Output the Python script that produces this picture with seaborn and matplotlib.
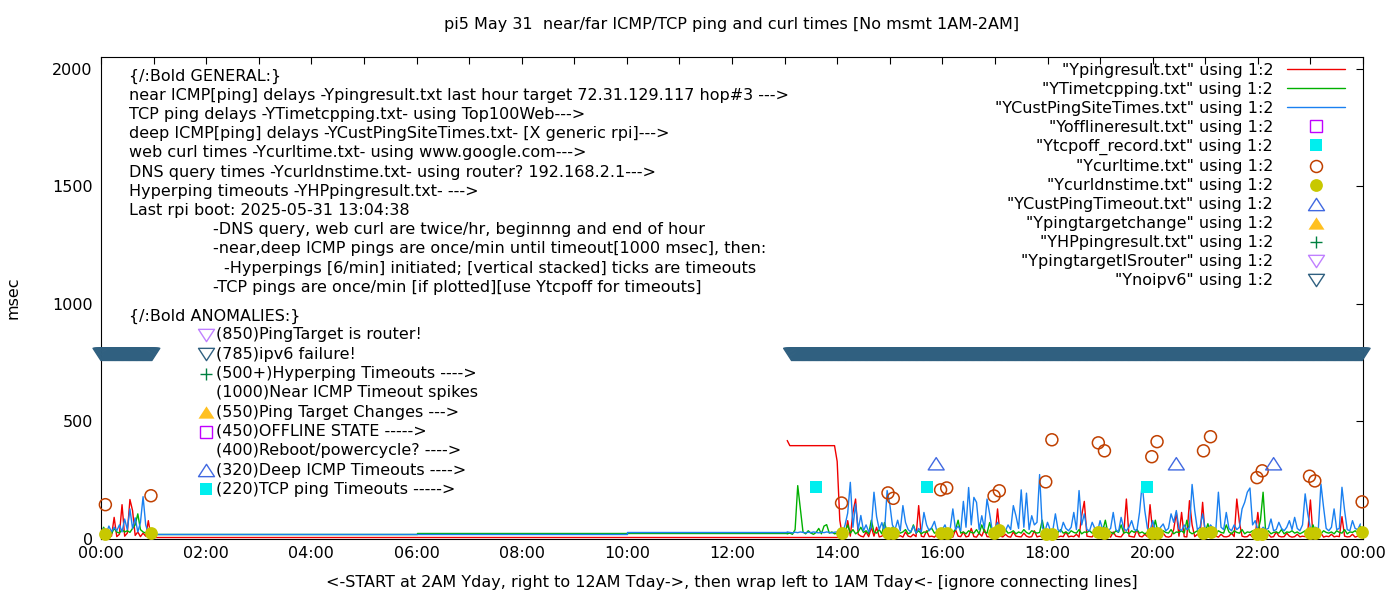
import numpy as np
import matplotlib
matplotlib.use("Agg")
import matplotlib.pyplot as plt
from matplotlib.lines import Line2D
from matplotlib.path import Path
from matplotlib.ticker import MultipleLocator
import seaborn as sns

# ---- text ----
TITLE = "pi5 May 31  near/far ICMP/TCP ping and curl times [No msmt 1AM-2AM]"
XLABEL = "<-START at 2AM Yday, right to 12AM Tday->, then wrap left to 1AM Tday<- [ignore connecting lines]"
YLABEL = "msec"

x_tick_hours = [0, 2, 4, 6, 8, 10, 12, 14, 16, 18, 20, 22, 24]
x_tick_labels = ["00:00", "02:00", "04:00", "06:00", "08:00", "10:00", "12:00",
                 "14:00", "16:00", "18:00", "20:00", "22:00", "00:00"]
y_ticks = [0, 500, 1000, 1500, 2000]

general_lines = [
    "{/:Bold GENERAL:}",
    "near ICMP[ping] delays -Ypingresult.txt last hour target 72.31.129.117 hop#3 --->",
    "TCP ping delays -YTimetcpping.txt- using Top100Web--->",
    "deep ICMP[ping] delays -YCustPingSiteTimes.txt- [X generic rpi]--->",
    "web curl times -Ycurltime.txt- using www.google.com--->",
    "DNS query times -Ycurldnstime.txt- using router? 192.168.2.1--->",
    "Hyperping timeouts -YHPpingresult.txt- --->",
    "Last rpi boot: 2025-05-31 13:04:38",
    "-DNS query, web curl are twice/hr, beginnng and end of hour",
    "-near,deep ICMP pings are once/min until timeout[1000 msec], then:",
    "-Hyperpings [6/min] initiated; [vertical stacked] ticks are timeouts",
    "-TCP pings are once/min [if plotted][use Ytcpoff for timeouts]",
]
general_x = [129, 129, 129, 129, 129, 129, 129, 129, 213, 213, 224, 213]

anomaly_title = "{/:Bold ANOMALIES:}"
anomaly_lines = [
    "(850)PingTarget is router!",
    "(785)ipv6 failure!",
    "(500+)Hyperping Timeouts ---->",
    "(1000)Near ICMP Timeout spikes",
    "(550)Ping Target Changes --->",
    "(450)OFFLINE STATE ----->",
    "(400)Reboot/powercycle? ---->",
    "(320)Deep ICMP Timeouts ---->",
    "(220)TCP ping Timeouts ----->",
]
anomaly_keys = ["router", "ipv6", "hp", None, "tchange", "offline", None, "custto", "tcpoff"]

# ---- data (hours of day, msec) ----
def hrs(t):
    h, m = t.split(":")
    return int(h) + int(m) / 60

STEP_MIN = 3
EARLY_START = "00:00"
DAY_START = "13:03"

# near ICMP (Ypingresult)
red_early = [10, 15, 8, 30, 12, 92, 10, 20, 146, 12, 25, 168, 121, 15, 30, 10, 25, 12, 78, 10]
red_day = (
    [419, 397, 397, 397, 397, 397, 397, 397, 397, 397, 397, 397, 397, 397, 397, 397, 397, 397, 397]
    + [330, 80, 10, 12, 78, 12, 113, 170, 20, 12, 9, 30, 10, 50, 12, 50, 9, 12, 25, 10]
    + [12, 9, 25, 10, 14, 8, 30, 12, 9, 20, 10, 142, 12, 9, 35, 10, 12, 8, 20, 10]
    + [9, 12, 20, 10, 8, 40, 12, 10, 30, 9, 12, 45, 10, 8, 25, 12, 40, 10, 9, 15]
    + [10, 128, 12, 9, 20, 10, 8, 30, 12, 10, 9, 25, 12, 8, 10, 35, 9, 12, 10, 8]
    + [12, 9, 10, 25, 8, 12, 10, 30, 9, 12, 10, 20, 8, 100, 160, 12, 10, 9, 25, 10]
    + [9, 12, 10, 20, 8, 30, 12, 10, 9, 25, 170, 12, 10, 8, 40, 12, 9, 20, 10, 146]
    + [30, 10, 12, 9, 25, 10, 8, 12, 40, 113, 12, 113, 10, 9, 163, 60, 10, 20, 12, 156]
    + [12, 9, 30, 10, 12, 8, 20, 10, 9, 12, 25, 10, 170, 70, 12, 9, 10, 20, 8, 12]
    + [113, 10, 9, 12, 20, 8, 10, 30, 12, 9, 10, 25, 12, 8, 10, 20, 9, 12, 10, 30]
    + [166, 12, 9, 10, 25, 8, 12, 10, 20, 9, 12, 10, 95, 12, 9, 10, 20, 8, 12, 10]
)
red_night_t = ["00:57", "14:06"]
red_night_v = [10, 8]

# TCP ping (YTimetcpping)
green_early = [20, 50, 25, 35, 22, 45, 30, 25, 40, 30, 35, 28, 45, 60, 107, 40, 30, 25, 22, 23]
green_day = (
    [22, 25, 20, 40, 227, 130, 30, 22, 35, 25, 20, 28, 45, 22, 55, 61, 25, 30, 22]
    + [25, 35, 20, 30, 60, 25, 40, 22, 30, 50, 28, 35, 22, 80, 30, 25, 40, 22, 70, 30]
    + [28, 50, 22, 35, 25, 30, 40, 22, 28, 60, 25, 35, 22, 30, 28, 40, 45, 25, 30, 22]
    + [30, 25, 35, 22, 28, 40, 80, 25, 30, 22, 35, 28, 25, 40, 22, 60, 30, 25, 70, 28]
    + [25, 35, 22, 30, 40, 25, 28, 35, 22, 30, 25, 40, 28, 22, 35, 30, 25, 28, 80, 22]
    + [30, 25, 35, 22, 28, 40, 25, 30, 22, 35, 28, 25, 40, 22, 30, 28, 35, 25, 22, 30]
    + [28, 35, 80, 25, 30, 22, 35, 28, 60, 25, 30, 22, 35, 28, 40, 25, 30, 22, 28, 35]
    + [25, 80, 30, 22, 35, 28, 25, 40, 22, 30, 28, 35, 25, 80, 30, 22, 28, 35, 25, 30]
    + [28, 65, 25, 30, 22, 35, 28, 25, 60, 30, 22, 35, 28, 25, 40, 22, 30, 28, 35, 25]
    + [30, 80, 199, 25, 35, 22, 28, 30, 25, 40, 22, 30, 28, 35, 25, 30, 22, 28, 35, 25]
    + [28, 60, 25, 30, 22, 35, 28, 25, 30, 22, 35, 28, 25, 40, 22, 30, 28, 35, 25, 55]
)
green_night_t = ["00:57", "02:00", "06:00", "13:03"]
green_night_v = [23, 20, 27, 27]

# deep ICMP (YCustPingSiteTimes)
blue_early = [20, 45, 25, 55, 30, 50, 35, 60, 30, 85, 40, 128, 45, 90, 30, 70, 180, 60, 25, 21]
blue_day = (
    [30, 28, 26, 29, 27, 30, 28, 26, 29, 27, 30, 28, 26, 29, 27, 30, 28, 26, 29]
    + [30, 45, 25, 60, 110, 241, 50, 149, 40, 100, 35, 60, 30, 50, 199, 95, 40, 70, 30, 206]
    + [150, 60, 40, 80, 35, 142, 70, 40, 30, 55, 25, 45, 30, 113, 60, 35, 50, 75, 30, 40]
    + [40, 60, 30, 45, 128, 40, 55, 35, 160, 50, 219, 60, 177, 156, 40, 99, 45, 170, 107, 35]
    + [45, 71, 30, 50, 35, 60, 40, 142, 99, 45, 209, 50, 195, 40, 99, 60, 71, 274, 50, 30]
    + [71, 40, 35, 107, 40, 30, 71, 45, 35, 50, 113, 40, 206, 60, 107, 40, 35, 71, 45, 30]
    + [78, 40, 50, 35, 45, 113, 40, 30, 92, 45, 35, 50, 78, 40, 35, 113, 234, 121, 45, 35]
    + [78, 40, 35, 50, 64, 35, 45, 107, 71, 121, 45, 35, 60, 40, 50, 232, 121, 40, 50, 107]
    + [40, 35, 60, 45, 35, 199, 50, 40, 113, 45, 35, 60, 40, 50, 128, 156, 199, 217, 60, 78]
    + [40, 35, 50, 40, 45, 85, 35, 40, 71, 45, 35, 50, 78, 40, 92, 45, 35, 60, 192, 107]
    + [45, 35, 50, 40, 234, 135, 45, 35, 50, 128, 40, 45, 220, 121, 40, 35, 78, 45, 40, 64]
)
blue_night_t = ["00:57", "06:00", "10:00", "13:03"]
blue_night_v = [21, 23, 30, 30]

# web curl + DNS query, twice an hour
curl_t = ["00:05", "00:57", "14:05", "14:58", "15:04", "15:58", "16:05", "16:59", "17:05",
          "17:58", "18:05", "18:58", "19:05", "19:59", "20:05", "20:58", "21:06", "21:59",
          "22:05", "22:59", "23:05", "23:59"]
curl_v = [146, 184, 153, 196, 173, 209, 217, 183, 205, 243, 422, 409, 375, 350, 414, 375,
          435, 261, 290, 267, 247, 158]
dns_v = [22, 27, 26, 24, 26, 25, 27, 24, 40, 22, 22, 28, 26, 24, 24, 27, 30, 22, 22, 24, 26, 30]

tcpoff_t = ["13:36", "15:42", "19:53"]
tcpoff_v = [220, 220, 220]

custto_t = ["15:53", "20:27", "22:18"]
custto_v = [320, 320, 320]

# ipv6 failure, logged every minute inside these windows
ipv6_windows = [("00:00", "00:58"), ("13:08", "23:59")]
ipv6_v = 785

# ---- styles ----
C_RED, C_GREEN, C_BLUE = "#f00000", "#00b000", "#1a80f0"
TRI_UP = Path([(0, 0.77), (-1, -0.77), (1, -0.77), (0, 0.77)],
              [Path.MOVETO, Path.LINETO, Path.LINETO, Path.CLOSEPOLY])
TRI_DN = Path([(0, -0.77), (-1, 0.77), (1, 0.77), (0, -0.77)],
              [Path.MOVETO, Path.LINETO, Path.LINETO, Path.CLOSEPOLY])
styles = {
    "offline": dict(marker="s", ms=8.6, mfc="none", mec="#c000ff", mew=1.0),
    "tcpoff": dict(marker="s", ms=9.1, mfc="#00eeee", mec="#00eeee", mew=0),
    "curl": dict(marker="o", ms=8.6, mfc="none", mec="#c04000", mew=1.1),
    "dns": dict(marker="o", ms=9.2, mfc="#c8c800", mec="#c8c800", mew=0),
    "custto": dict(marker=TRI_UP, ms=11.5, mfc="none", mec="#4169e1", mew=1.0),
    "tchange": dict(marker=TRI_UP, ms=11.5, mfc="#ffc020", mec="#ffc020", mew=0),
    "hp": dict(marker="+", ms=9, mfc="none", mec="#008040", mew=1.0),
    "router": dict(marker=TRI_DN, ms=11.5, mfc="none", mec="#c080ff", mew=1.0),
    "ipv6": dict(marker=TRI_DN, ms=11.5, mfc="none", mec="#306080", mew=1.0),
}

FS = 11.5
sns.set_theme(style="white")
plt.rcParams["font.family"] = ["DejaVu Sans"]
plt.rcParams["text.color"] = "black"
plt.rcParams["axes.labelcolor"] = "black"
plt.rcParams["axes.linewidth"] = 0.8

W, H = 1400, 600
AX_L, AX_R, AX_T, AX_B = 101, 1363, 57, 539
fig = plt.figure(figsize=(W / 100, H / 100), dpi=100)
ax = fig.add_axes([AX_L / W, 1 - AX_B / H, (AX_R - AX_L) / W, (AX_B - AX_T) / H])


def fx(px):
    return (px - AX_L) / (AX_R - AX_L)


def fy(py):
    return (AX_B - py) / (AX_B - AX_T)


def grid(start, n):
    return hrs(start) + np.arange(n) * STEP_MIN / 60


# lines: near ICMP, TCP, deep ICMP
for early, day, nt, nv, col in [
    (red_early, red_day, red_night_t, red_night_v, C_RED),
    (green_early, green_day, green_night_t, green_night_v, C_GREEN),
    (blue_early, blue_day, blue_night_t, blue_night_v, C_BLUE),
]:
    sns.lineplot(x=[hrs(t) for t in nt], y=nv, ax=ax, color=col, lw=1.0,
                 drawstyle="steps-post", estimator=None, sort=False)
    sns.lineplot(x=grid(EARLY_START, len(early)), y=early, ax=ax, color=col, lw=1.0,
                 estimator=None, sort=False)
    sns.lineplot(x=grid(DAY_START, len(day)), y=day, ax=ax, color=col, lw=1.0,
                 estimator=None, sort=False)


def points(xs, ys, key):
    st = styles[key]
    sns.scatterplot(x=xs, y=ys, ax=ax, marker=st["marker"], s=st["ms"] ** 2,
                    facecolor=st["mfc"], edgecolor=st["mec"], linewidth=st["mew"],
                    clip_on=False, zorder=5)


points([hrs(t) for t in tcpoff_t], tcpoff_v, "tcpoff")
points([hrs(t) for t in curl_t], curl_v, "curl")
points([hrs(t) for t in curl_t], dns_v, "dns")
points([hrs(t) for t in custto_t], custto_v, "custto")
ipv6_x = np.concatenate([np.arange(hrs(a) * 60, hrs(b) * 60 + 1) / 60 for a, b in ipv6_windows])
points(ipv6_x, [ipv6_v] * len(ipv6_x), "ipv6")

# axes
ax.set_xlim(0, 24)
ax.set_ylim(0, 2050)
ax.set_xticks(x_tick_hours)
ax.set_xticklabels(x_tick_labels)
ax.xaxis.set_minor_locator(MultipleLocator(1))
ax.set_yticks(y_ticks)
ax.tick_params(axis="both", which="both", direction="in", top=True, right=True,
               length=5, width=0.8, color="black", labelsize=FS, labelcolor="black")
ax.tick_params(axis="x", pad=5)
ax.tick_params(axis="y", pad=6)
for sp in ax.spines.values():
    sp.set_color("black")
ax.set_xlabel("")
ax.set_ylabel("")

fig.text((AX_L + AX_R) / 2 / W, 1 - 25 / H, TITLE, ha="center", va="center",
         fontsize=FS, color="black")
fig.text((AX_L + AX_R) / 2 / W, 1 - 583 / H, XLABEL, ha="center", va="center",
         fontsize=FS, color="black")
fig.text(13 / W, 1 - 298 / H, YLABEL, ha="center", va="center", rotation=90,
         fontsize=FS, color="black")

# description block
for i, (line, px) in enumerate(zip(general_lines, general_x)):
    ax.text(fx(px), fy(76 + 19.2 * i), line, transform=ax.transAxes, ha="left", va="center",
            fontsize=FS, color="black")
ax.text(fx(129), fy(316), anomaly_title, transform=ax.transAxes, ha="left", va="center",
        fontsize=FS, color="black")
for i, (line, key) in enumerate(zip(anomaly_lines, anomaly_keys)):
    yy = fy(335 + 19.3 * i)
    ax.text(fx(216), yy, line, transform=ax.transAxes, ha="left", va="center",
            fontsize=FS, color="black")
    if key is not None:
        ax.plot([fx(206)], [yy], transform=ax.transAxes, ls="none", clip_on=False, **styles[key])

# legend
handles = [
    Line2D([], [], color=C_RED, lw=1.0),
    Line2D([], [], color=C_GREEN, lw=1.0),
    Line2D([], [], color=C_BLUE, lw=1.0),
] + [Line2D([], [], ls="none", **styles[k]) for k in
     ["offline", "tcpoff", "curl", "dns", "custto", "tchange", "hp", "router", "ipv6"]]
labels = ['"Ypingresult.txt" using 1:2', '"YTimetcpping.txt" using 1:2',
          '"YCustPingSiteTimes.txt" using 1:2', '"Yofflineresult.txt" using 1:2',
          '"Ytcpoff_record.txt" using 1:2', '"Ycurltime.txt" using 1:2',
          '"Ycurldnstime.txt" using 1:2', '"YCustPingTimeout.txt" using 1:2',
          '"Ypingtargetchange" using 1:2', '"YHPpingresult.txt" using 1:2',
          '"YpingtargetISrouter" using 1:2', '"Ynoipv6" using 1:2']
leg = ax.legend(handles, labels, loc="upper right", bbox_to_anchor=(fx(1345), fy(63)),
                frameon=False, markerfirst=False, handlelength=3.63, handletextpad=0.87,
                labelspacing=0.25, borderpad=0, borderaxespad=0, fontsize=FS, numpoints=1)
for t in leg.get_texts():
    t.set_color("black")

fig.savefig("out.png", dpi=100, facecolor="white")
